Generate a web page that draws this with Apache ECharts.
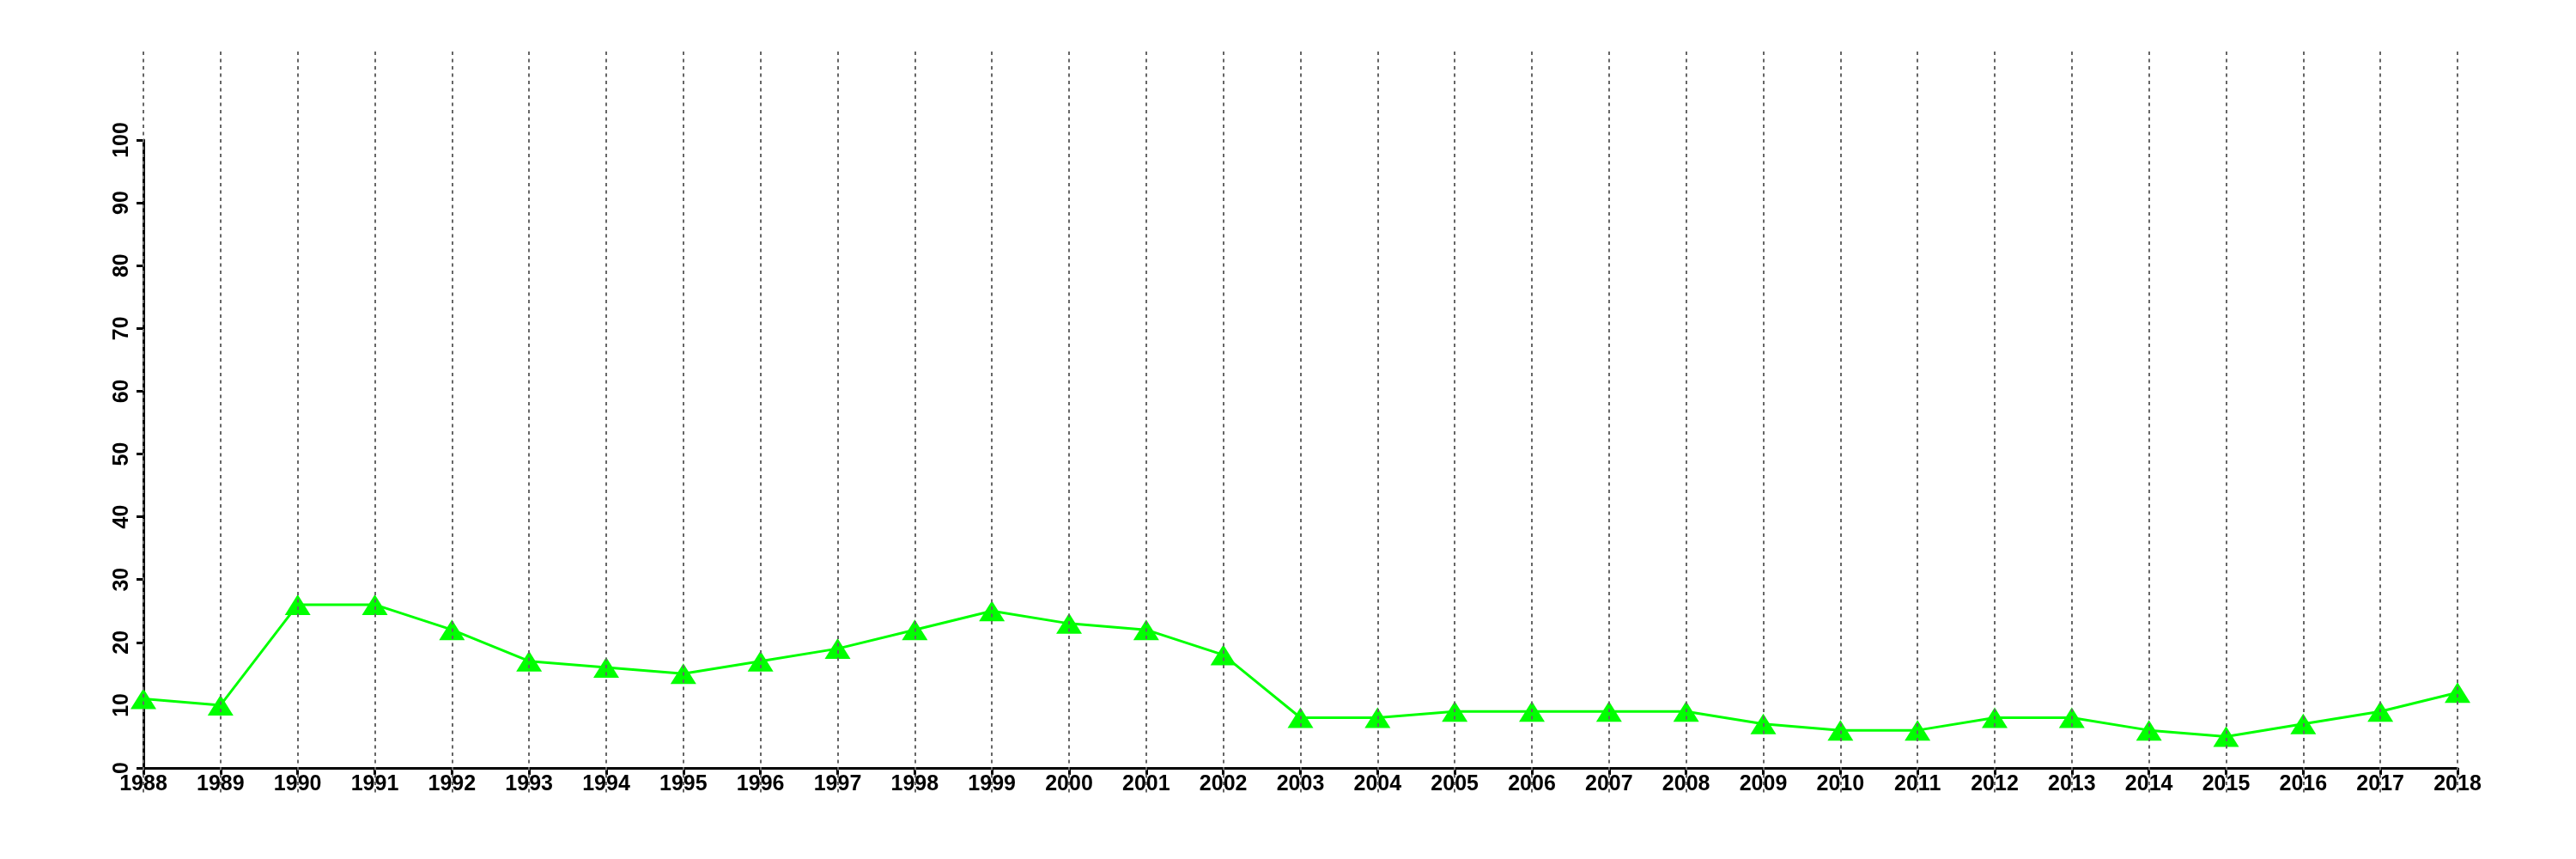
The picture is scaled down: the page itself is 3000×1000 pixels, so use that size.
<!DOCTYPE html>
<html>
<head>
<meta charset="utf-8">
<script src="https://cdn.jsdelivr.net/npm/echarts@6/dist/echarts.min.js"></script>
<style>
html,body{margin:0;padding:0;background:#fff;}
#chart{width:3000px;height:1000px;}
</style>
</head>
<body>
<div id="chart"></div>
<script>
const years = [1988,1989,1990,1991,1992,1993,1994,1995,1996,1997,1998,1999,2000,2001,2002,2003,2004,2005,2006,2007,2008,2009,2010,2011,2012,2013,2014,2015,2016,2017,2018];
const values = [11,10,26,26,22,17,16,15,17,19,22,25,23,22,18,8,8,9,9,9,9,7,6,6,8,8,6,5,7,9,12];
const yMin = 0, yMax = 100, yStep = 10;

const seriesData = years.map((y, i) => [y, values[i]]);
const font = '"Liberation Sans", Arial, Helvetica, sans-serif';

const chart = echarts.init(document.getElementById('chart'), null, {renderer: 'canvas'});
chart.setOption({
  animation: false,
  backgroundColor: '#ffffff',
  grid: [
    {left: 167, right: 138, top: 163, bottom: 106},
    {left: 167, right: 138, top: 60, bottom: 73}
  ],
  xAxis: [
    {
      type: 'value', gridIndex: 0, min: years[0], max: years[years.length-1], interval: 1,
      axisLine: {show: true, onZero: false, lineStyle: {color: '#000', width: 3}},
      axisTick: {show: true, length: 8, lineStyle: {color: '#000', width: 3}},
      axisLabel: {show: true, margin: 7, color: '#000', fontSize: 25, fontWeight: 'bold', fontFamily: font, formatter: v => String(v)},
      splitLine: {show: false}
    },
    {
      type: 'value', gridIndex: 1, min: years[0], max: years[years.length-1], interval: 1, z: 10,
      axisLine: {show: false}, axisTick: {show: false}, axisLabel: {show: false},
      splitLine: {show: true, lineStyle: {color: '#666666', width: 2, type: [4, 4.5]}}
    }
  ],
  yAxis: [
    {
      type: 'value', gridIndex: 0, min: yMin, max: yMax, interval: yStep,
      axisLine: {show: true, onZero: false, lineStyle: {color: '#000', width: 3}},
      axisTick: {show: true, length: 8, lineStyle: {color: '#000', width: 3}},
      axisLabel: {show: true, rotate: 90, margin: 12, color: '#000', fontSize: 25, fontWeight: 'bold', fontFamily: font},
      splitLine: {show: false}
    },
    {
      type: 'value', gridIndex: 1, min: 0, max: 1,
      axisLine: {show: false}, axisTick: {show: false}, axisLabel: {show: false}, splitLine: {show: false}
    }
  ],
  series: [
    {
      type: 'line', xAxisIndex: 0, yAxisIndex: 0, data: seriesData,
      symbol: 'triangle', symbolSize: [30, 24],
      lineStyle: {color: '#00ff00', width: 3},
      itemStyle: {color: '#00ff00'},
      z: 3
    }
  ]
});
</script>
</body>
</html>
